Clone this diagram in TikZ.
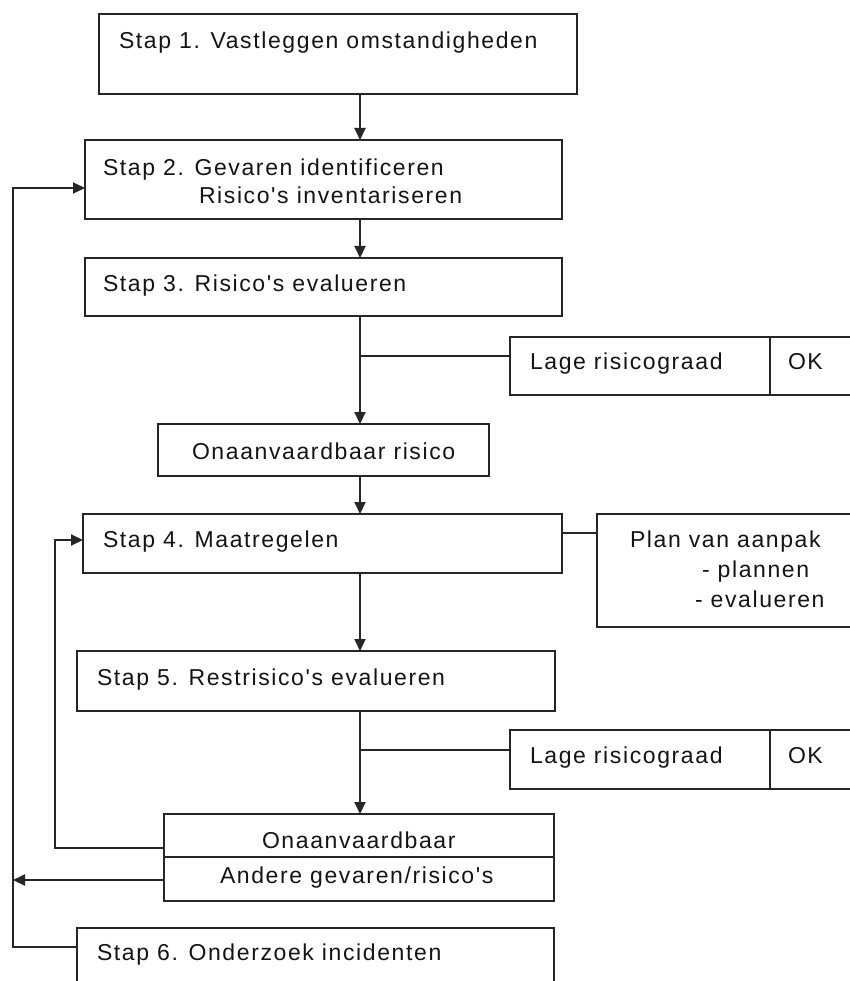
\documentclass[tikz,border=0pt]{standalone}
\usepackage{fontspec}
\newfontfamily\df{Liberation Sans}[LetterSpace=7]
\usetikzlibrary{arrows.meta}
\tikzset{
  x=1pt, y=-1pt,
  box/.style={draw=black!85, line width=2pt, inner sep=0pt, outer sep=0pt, anchor=north west, fill=white},
  lbl/.style={anchor=base west, inner sep=0pt, outer sep=0pt, font=\df\fontsize{23}{27}\selectfont, text=black!92},
  conn/.style={draw=black!85, line width=2pt},
  arr/.style={conn, -{Triangle[length=12pt,width=11pt]}},
}
\begin{document}
\begin{tikzpicture}
\useasboundingbox (0,0) rectangle (850,981);
\clip (0,0) rectangle (850,981);
\fill[white] (0,0) rectangle (850,981);
% boxes
\node[box, minimum width=478pt, minimum height=80pt] (b1) at (99,14) {};
\node[box, minimum width=477pt, minimum height=79pt] (b2) at (85,140) {};
\node[box, minimum width=477pt, minimum height=58pt] (b3) at (85,258) {};
\node[box, minimum width=260pt, minimum height=58pt] (lage1) at (510,337) {};
\node[box, minimum width=82pt, minimum height=58pt] (ok1) at (770,337) {};
\node[box, minimum width=331pt, minimum height=52pt] (oar) at (158,424) {};
\node[box, minimum width=479pt, minimum height=59pt] (b4) at (83,514) {};
\node[box, minimum width=255pt, minimum height=113pt] (plan) at (597,514) {};
\node[box, minimum width=478pt, minimum height=60pt] (b5) at (77,651) {};
\node[box, minimum width=260pt, minimum height=59pt] (lage2) at (510,730) {};
\node[box, minimum width=82pt, minimum height=59pt] (ok2) at (770,730) {};
\node[box, minimum width=390pt, minimum height=43pt] (onaT) at (164,814) {};
\node[box, minimum width=390pt, minimum height=44pt] (onaB) at (164,857) {};
\node[box, minimum width=477pt, minimum height=62pt] (b6) at (77,928) {};
% texts
\node[lbl] (t1) at (119,49) {Stap 1. Vastleggen omstandigheden};
\node[lbl] (t2a) at (103,176) {Stap 2. Gevaren identificeren};
\node[lbl] (t2b) at (199,204) {Risico's inventariseren};
\node[lbl] (t3) at (103,291) {Stap 3. Risico's evalueren};
\node[lbl] (tl1) at (530,369) {Lage risicograad};
\node[lbl] (tok1) at (788,369) {OK};
\node[lbl] (toar) at (192,459) {Onaanvaardbaar risico};
\node[lbl] (t4) at (103,547) {Stap 4. Maatregelen};
\node[lbl] (tp1) at (630,547) {Plan van aanpak};
\node[lbl] (tp2) at (702,577) {- plannen};
\node[lbl] (tp3) at (695,607) {- evalueren};
\node[lbl] (t5) at (97,685) {Stap 5. Restrisico's evalueren};
\node[lbl] (tl2) at (530,763) {Lage risicograad};
\node[lbl] (tok2) at (788,763) {OK};
\node[lbl] (tonaT) at (262,848) {Onaanvaardbaar};
\node[lbl] (tonaB) at (220,883) {Andere gevaren/risico's};
\node[lbl] (t6) at (97,960) {Stap 6. Onderzoek incidenten};
% helper coordinates
\coordinate (sp) at (360,0);
\coordinate (br1) at (360,356);
\coordinate (br2) at (360,750);
\coordinate (y4) at (0,533);
\coordinate (in4) at (55,540);
\coordinate (outT) at (55,848);
\coordinate (outB) at (13,880);
\coordinate (in2) at (13,188);
\coordinate (out6) at (13,947);
% connectors
\draw[arr] (b1.south -| sp) -- (b2.north -| sp);
\draw[arr] (b2.south -| sp) -- (b3.north -| sp);
\draw[arr] (b3.south -| sp) -- (oar.north -| sp);
\draw[conn] (br1) -- (br1 -| lage1.west);
\draw[arr] (oar.south -| sp) -- (b4.north -| sp);
\draw[conn] (b4.east |- y4) -- (plan.west |- y4);
\draw[arr] (b4.south -| sp) -- (b5.north -| sp);
\draw[arr] (b5.south -| sp) -- (onaT.north -| sp);
\draw[conn] (br2) -- (br2 -| lage2.west);
\draw[arr] (onaT.west |- outT) -- (outT) -- (in4) -- (b4.west |- in4);
\draw[arr] (onaB.west |- outB) -- (outB);
\draw[arr] (b6.west |- out6) -- (out6) -- (in2) -- (b2.west |- in2);
\end{tikzpicture}
\end{document}
